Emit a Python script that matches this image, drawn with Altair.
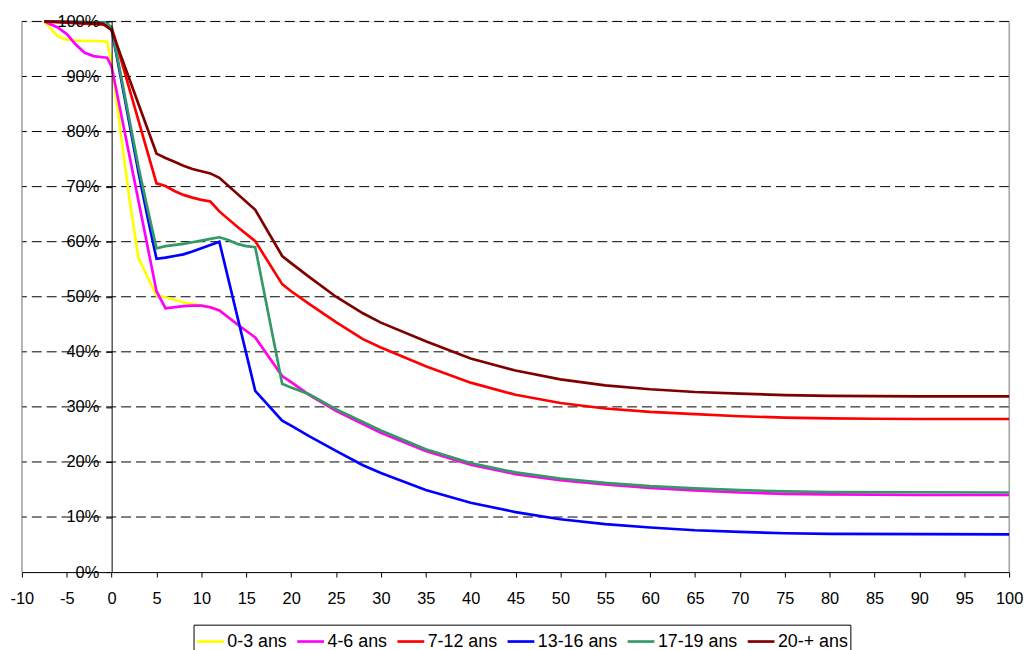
import altair as alt
import pandas as pd

# ---------------- data ----------------
series_names = ["0-3 ans", "4-6 ans", "7-12 ans", "13-16 ans", "17-19 ans", "20-+ ans"]
series_colors = ["#FFFF00", "#FF00FF", "#FF0000", "#0000FF", "#339966", "#800000"]

x_03 = [-7.5, -6, -5, -4, -1, -0.5, 0, 1, 2, 3, 5, 6, 8, 10, 11, 12, 14, 16, 19, 20, 22, 25, 30, 35, 40, 45, 50, 55, 60, 65, 70, 75, 80, 90, 100]
y_03 = [100, 97.3, 96.7, 96.5, 96.4, 96.3, 92.5, 80.0, 67.5, 57.0, 50.2, 49.9, 49.0, 48.4, 48.1, 47.6, 45.0, 42.6, 35.6, 34.5, 32.2, 29.3, 25.3, 22.0, 19.5, 17.8, 16.7, 15.9, 15.3, 14.85, 14.45, 14.2, 14.1, 14.0, 14.0]

x_46 = [-7.5, -6, -5, -4, -3, -2, -1, -0.5, 0, 5, 6, 8, 9, 10, 11, 12, 14, 16, 19, 20, 22, 25, 30, 35, 40, 45, 50, 55, 60, 65, 70, 75, 80, 90, 100]
y_46 = [100, 98.9, 97.7, 95.8, 94.3, 93.7, 93.5, 93.4, 91.8, 51.0, 47.9, 48.3, 48.4, 48.4, 48.1, 47.5, 45.0, 42.6, 35.6, 34.5, 32.2, 29.3, 25.3, 22.0, 19.5, 17.8, 16.7, 15.9, 15.3, 14.85, 14.45, 14.2, 14.1, 14.0, 14.0]

x_712 = [-7.5, -1, -0.5, 0, 5, 6, 7, 8, 9, 10, 11, 12, 14, 16, 19, 20, 22, 25, 28, 30, 35, 40, 45, 50, 55, 60, 65, 70, 75, 80, 85, 90, 100]
y_712 = [100, 99.4, 99.3, 99.0, 70.6, 70.1, 69.2, 68.5, 68.0, 67.6, 67.3, 65.5, 62.7, 60.1, 52.3, 51.0, 48.7, 45.4, 42.3, 40.8, 37.4, 34.4, 32.2, 30.7, 29.7, 29.1, 28.7, 28.3, 28.05, 27.9, 27.85, 27.8, 27.8]

x_1316 = [-7.5, -1, -0.5, 0, 1, 2, 3, 4, 5, 6, 7, 8, 9, 10, 11, 12, 16, 19, 20, 22, 25, 28, 30, 35, 40, 45, 50, 55, 60, 65, 70, 75, 80, 90, 100]
y_1316 = [100, 99.8, 99.7, 98.5, 90.0, 81.3, 72.5, 64.5, 56.9, 57.1, 57.4, 57.7, 58.2, 58.8, 59.4, 60.0, 32.9, 27.5, 26.6, 24.7, 22.0, 19.4, 18.0, 14.9, 12.6, 10.9, 9.6, 8.7, 8.1, 7.6, 7.3, 7.05, 6.95, 6.9, 6.85]

x_1719 = [-7.5, -1, -0.5, 0, 1, 2, 3, 4, 5, 6, 8, 9, 10, 11, 12, 13, 14, 15, 16, 19, 20, 22, 25, 30, 35, 40, 45, 50, 55, 60, 65, 70, 75, 80, 90, 100]
y_1719 = [100, 99.8, 99.7, 98.8, 90.5, 82.0, 73.5, 66.0, 58.8, 59.2, 59.6, 59.9, 60.2, 60.5, 60.8, 60.3, 59.6, 59.2, 59.0, 34.2, 33.5, 32.3, 29.6, 25.7, 22.3, 19.8, 18.1, 17.0, 16.2, 15.6, 15.2, 14.9, 14.65, 14.55, 14.5, 14.45]

x_20 = [-7.5, -1, 0, 5, 6, 7, 8, 9, 10, 11, 12, 16, 19, 20, 22, 25, 28, 30, 35, 40, 45, 50, 55, 60, 65, 70, 75, 80, 85, 90, 100]
y_20 = [100, 99.6, 98.4, 76.0, 75.2, 74.5, 73.8, 73.2, 72.8, 72.4, 71.6, 65.8, 57.4, 56.1, 53.6, 50.0, 47.0, 45.3, 41.9, 38.8, 36.6, 35.0, 33.9, 33.2, 32.7, 32.4, 32.15, 32.0, 31.95, 31.9, 31.9]

x_ticks = list(range(-10, 101, 5))
y_ticks = list(range(0, 101, 10))
grid_values = list(range(10, 101, 10))

rows = []
for name, xs, ys in zip(series_names,
                        [x_03, x_46, x_712, x_1316, x_1719, x_20],
                        [y_03, y_46, y_712, y_1316, y_1719, y_20]):
    for i, (xv, yv) in enumerate(zip(xs, ys)):
        rows.append({"series": name, "x": xv, "y": yv, "idx": i})
df = pd.DataFrame(rows)

W, H = 995, 555
FONT = "Liberation Sans"
FS = 16.5

xscale = alt.Scale(domain=[-10, 100], nice=False, zero=False)
yscale = alt.Scale(domain=[0, 100], nice=False, zero=False)

yaxis = alt.Axis(
    values=y_ticks, title=None, grid=False, offset=-W / 110 * 10,
    domainColor="black", tickColor="black", tickSize=6, labelPadding=7,
    labelFont=FONT, labelFontSize=FS, labelColor="black",
    labelExpr="datum.value + '%'", labelOverlap=False, zindex=1)

xaxis = alt.Axis(
    values=x_ticks, title=None, grid=False, domainColor="black",
    tickColor="black", tickSize=5, labelFont=FONT, labelFontSize=FS,
    labelColor="black", labelPadding=14, labelFlush=False, labelOverlap=False,
    labelExpr="'' + datum.value")

grid = alt.Chart(pd.DataFrame({"y": grid_values})).mark_rule(
    color="black", strokeWidth=1, strokeDash=[10, 5]
).encode(y=alt.Y("y:Q", scale=yscale, axis=yaxis))

border_left = alt.Chart(pd.DataFrame({"side": ["l"]})).mark_rule(
    color="#808080", strokeWidth=1
).encode(x=alt.value(0), y=alt.value(0), y2=alt.value(H))

border_right = alt.Chart(pd.DataFrame({"side": ["r"]})).mark_rule(
    color="#808080", strokeWidth=1
).encode(x=alt.value(W), y=alt.value(0), y2=alt.value(H))

lines = alt.Chart(df).mark_line(strokeWidth=2.7).encode(
    x=alt.X("x:Q", scale=xscale, axis=xaxis),
    y=alt.Y("y:Q", scale=yscale, axis=yaxis),
    color=alt.Color("series:N", scale=alt.Scale(domain=series_names, range=series_colors),
                    legend=alt.Legend(
                        title=None, orient="none", legendX=173, legendY=608,
                        direction="horizontal", symbolType="stroke", symbolSize=729,
                        symbolStrokeWidth=2.7, labelFont=FONT, labelFontSize=18,
                        labelColor="black", strokeColor="black", fillColor="white",
                        padding=2, columnPadding=4, labelOffset=2)),
    order=alt.Order("idx:Q"),
)

chart = alt.layer(grid, border_left, border_right, lines).properties(
    width=W, height=H,
    autosize=alt.AutoSizeParams(type="none"),
    padding={"left": 14, "top": 11, "right": 15, "bottom": 76},
).configure_view(stroke=None).configure(background="white")

chart.save("out.html", embed_options={"renderer": "svg", "actions": False})
